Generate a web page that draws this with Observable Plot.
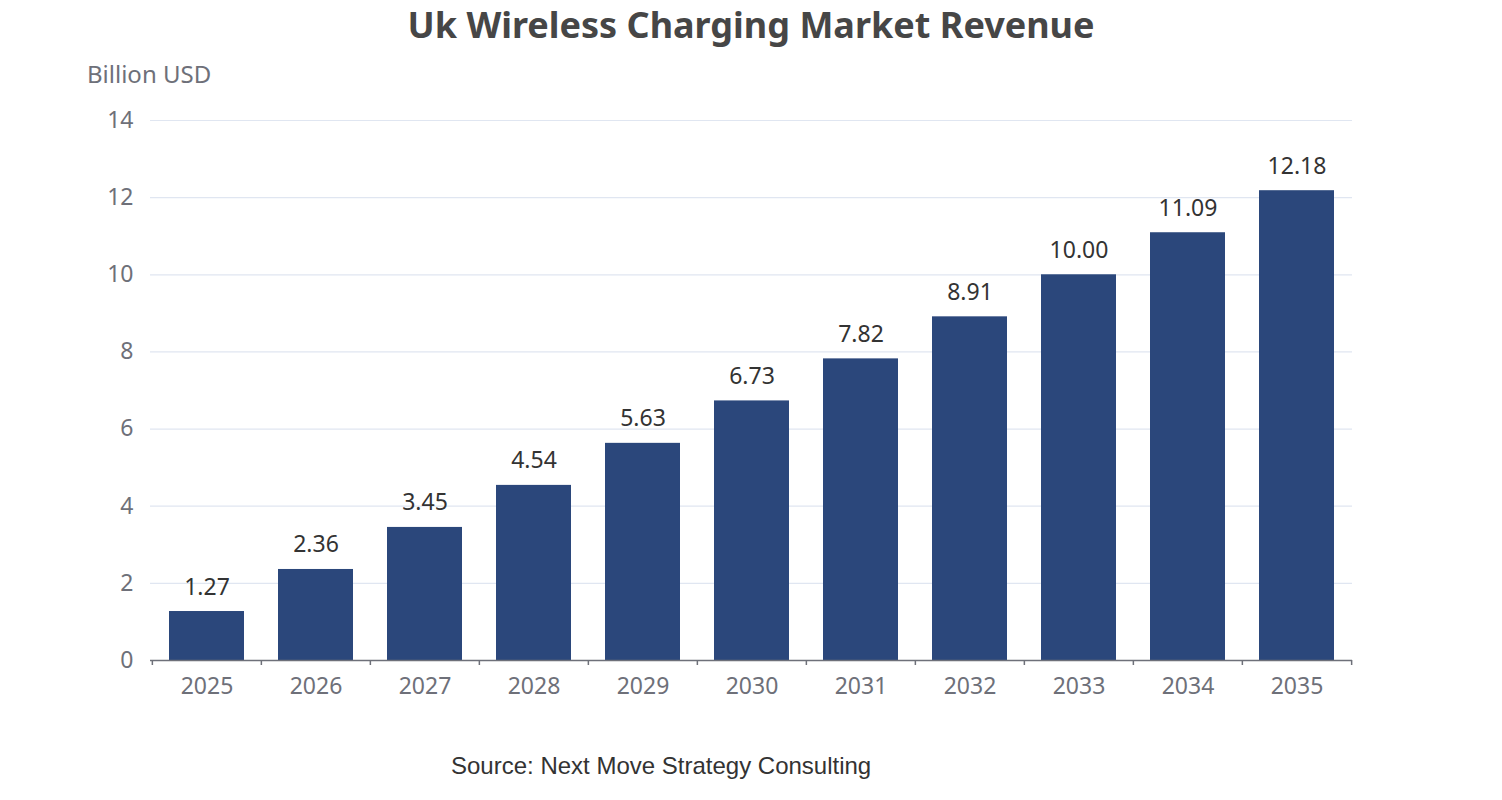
<!DOCTYPE html>
<html>
<head>
<meta charset="utf-8">
<script src="https://cdn.jsdelivr.net/npm/d3@7"></script>
<script src="https://cdn.jsdelivr.net/npm/@observablehq/plot@0.6"></script>
<style>
  html, body { margin: 0; padding: 0; background: #fff; }
  #wrap { position: relative; width: 1502px; height: 800px; font-family: "Noto Sans", "Open Sans", sans-serif; }
  #title { position: absolute; left: 0; width: 1502px; top: 0px; text-align: center; font-size: 36px; font-weight: bold; color: #464646; }
  #ylabel { position: absolute; left: 87px; top: 57px; font-size: 24px; color: #6E7079; }
  #source { position: absolute; left: 451px; top: 752px; font-family: "Liberation Sans", Arial, sans-serif; font-size: 24px; color: #333; }
  #chart { position: absolute; left: 0; top: 0; }
</style>
</head>
<body>
<div id="wrap">
  <div id="chart"></div>
  <div id="title">Uk Wireless Charging Market Revenue</div>
  <div id="ylabel">Billion USD</div>
  <div id="source">Source: Next Move Strategy Consulting</div>
</div>
<script>
const years = ["2025","2026","2027","2028","2029","2030","2031","2032","2033","2034","2035"];
const revenue = [1.27, 2.36, 3.45, 4.54, 5.63, 6.73, 7.82, 8.91, 10.00, 11.09, 12.18];
const yTicks = [0, 2, 4, 6, 8, 10, 12, 14];

const data = years.map((y, i) => ({year: y, value: revenue[i]}));

const W = 1502, H = 800, mL = 150, mR = 150, mT = 120, mB = 140;
const step = (W - mL - mR) / years.length;

const chart = Plot.plot({
  width: W,
  height: H,
  marginLeft: mL,
  marginRight: mR,
  marginTop: mT,
  marginBottom: mB,
  style: { fontFamily: '"Noto Sans", "Open Sans", sans-serif', background: "transparent" },
  x: { domain: years, paddingInner: 0.314, paddingOuter: 0.157, label: null },
  y: { domain: [0, 14], label: null },
  marks: [
    Plot.ruleY(yTicks.filter(d => d > 0), { stroke: "#E0E6F1", strokeWidth: 1.2 }),
    Plot.axisY(yTicks, { tickSize: 0, tickPadding: 17, fontSize: 23, fill: "#6E7079", label: null }),
    Plot.barY(data, { x: "year", y: "value", fill: "#2B477B" }),
    Plot.ruleY([0], { stroke: "#6E7079", strokeWidth: 1.5 }),
    Plot.ruleX(years, { x: d => d, dx: -step / 2, y1: 0, y2: -0.13, stroke: "#6E7079", strokeWidth: 1.5 }),
    Plot.ruleX([years[years.length - 1]], { x: d => d, dx: step / 2, y1: 0, y2: -0.13, stroke: "#6E7079", strokeWidth: 1.5 }),
    Plot.axisX({ tickSize: 0, tickPadding: 17, fontSize: 23, fill: "#6E7079", label: null }),
    Plot.text(data, { x: "year", y: "value", text: d => d.value.toFixed(2), dy: -17, lineAnchor: "bottom", fontSize: 23, fill: "#333" })
  ]
});
document.getElementById("chart").appendChild(chart);
</script>
</body>
</html>
